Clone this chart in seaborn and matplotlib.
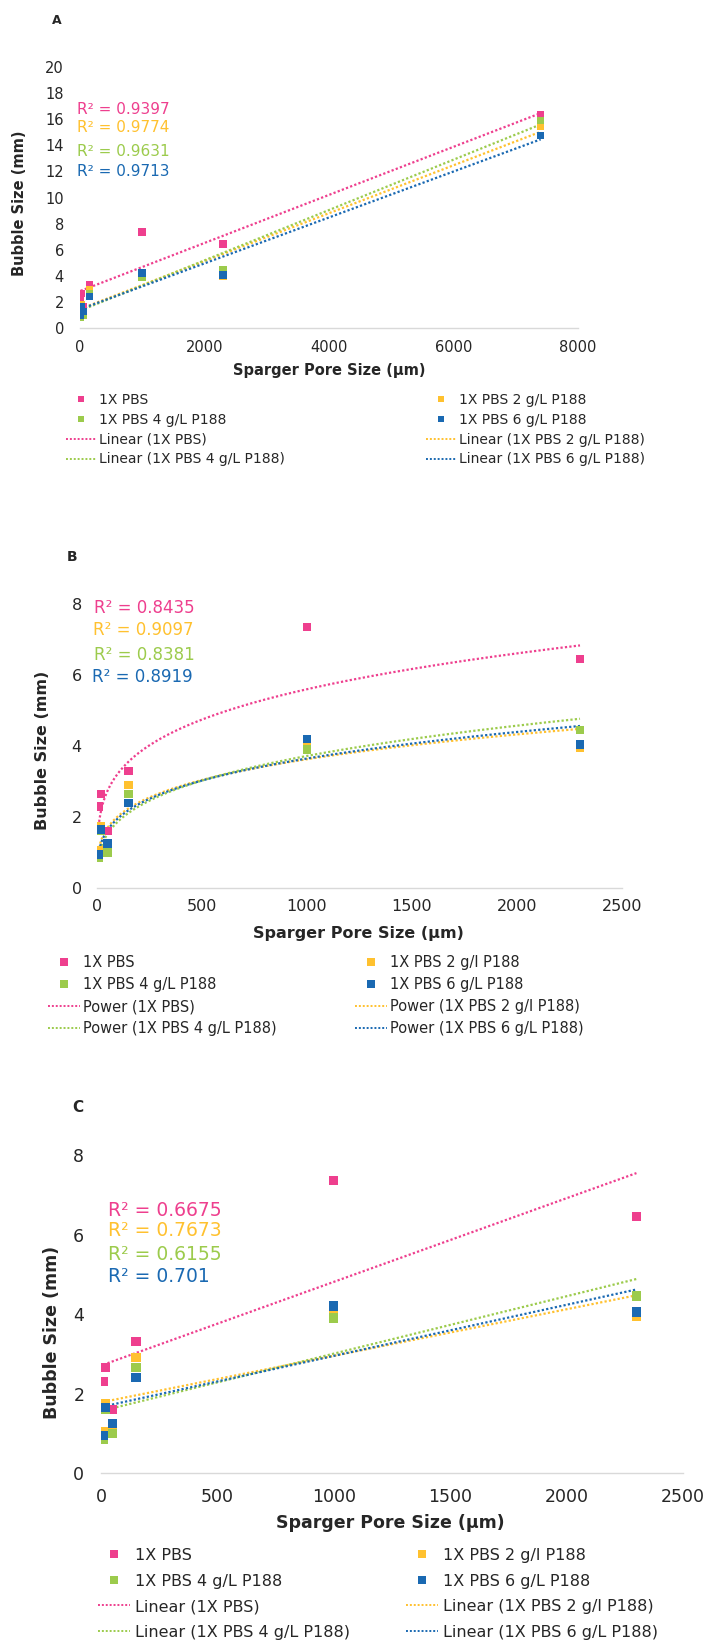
import numpy as np
import pandas as pd
import seaborn as sns
import matplotlib.pyplot as plt
from matplotlib.lines import Line2D

# Values
pore_size = [10, 20, 50, 150, 1000, 2300, 7400]        # sparger pore size (um)
pbs       = [2.3, 2.65, 1.6, 3.3, 7.35, 6.45, 16.3]     # bubble size (mm)
p188_2    = [1.05, 1.75, 1.1, 2.9, 4.05, 3.95, 15.45]
p188_4    = [0.85, 1.6, 1.0, 2.65, 3.9, 4.45, 15.9]
p188_6    = [0.95, 1.65, 1.25, 2.4, 4.2, 4.05, 14.75]

series_A = ['1X PBS', '1X PBS 2 g/L P188', '1X PBS 4 g/L P188', '1X PBS 6 g/L P188']
series_BC = ['1X PBS', '1X PBS 2 g/l P188', '1X PBS 4 g/L P188', '1X PBS 6 g/L P188']

r2_A = ['0.9397', '0.9774', '0.9631', '0.9713']
r2_B = ['0.8435', '0.9097', '0.8381', '0.8919']
r2_C = ['0.6675', '0.7673', '0.6155', '0.701']

colors = ['#EE3F8E', '#FFC12F', '#9CCB4C', '#1A69B2']

sns.set_style('white')
plt.rcParams['font.family'] = ['DejaVu Sans']

W, H = 705, 1644
fig = plt.figure(figsize=(W / 100, H / 100), dpi=100)
DOT = (0, (1, 1))


def fx(x):
    return x / W


def fy(y):
    return 1 - y / H


def make_df(names, n):
    rows = []
    for name, vals in zip(names, [pbs, p188_2, p188_4, p188_6]):
        for x, y in zip(pore_size[:n], vals[:n]):
            rows.append((name, x, y))
    return pd.DataFrame(rows, columns=['series', 'pore', 'bubble'])


def draw_panel(p):
    L, T, R, B = p['box']
    ax = fig.add_axes([fx(L), fy(B), (R - L) / W, (B - T) / H])
    names = p['names']
    df = make_df(names, p['n'])

    sns.scatterplot(data=df, x='pore', y='bubble', hue='series', hue_order=names,
                    palette=colors, marker='s', s=p['ms'], linewidth=0,
                    legend=False, ax=ax, zorder=3)

    # trendlines, fitted the way Excel does it
    for name, c in zip(names, colors):
        sub = df[df.series == name]
        if p['kind'] == 'Linear':
            sns.regplot(data=sub, x='pore', y='bubble', scatter=False, ci=None,
                        color=c, line_kws=dict(linestyle=DOT, linewidth=1.6), ax=ax)
        else:
            b, ln_a = np.polyfit(np.log(sub.pore), np.log(sub.bubble), 1)
            xs = np.linspace(sub.pore.min(), sub.pore.max(), 400)
            sns.lineplot(x=xs, y=np.exp(ln_a) * xs ** b, color=c,
                         linestyle=DOT, linewidth=1.6, ax=ax)

    ax.set_xlim(0, p['xmax'])
    ax.set_ylim(0, p['ymax'])
    ax.set_xticks(range(0, p['xmax'] + 1, p['xstep']))
    ax.set_yticks(range(0, p['ymax'] + 1, 2))
    ax.tick_params(length=0, labelsize=p['tfs'], colors='#262626')
    ax.tick_params(axis='y', pad=p['ypad'])
    ax.tick_params(axis='x', pad=p['xpad'])
    sns.despine(ax=ax, left=True)
    ax.spines['bottom'].set_color('#D9D9D9')
    ax.spines['bottom'].set_linewidth(1)

    ax.set_xlabel('Sparger Pore Size (µm)', fontsize=p['lfs'], fontweight='bold')
    ax.set_ylabel('Bubble Size (mm)', fontsize=p['lfs'], fontweight='bold')
    xl, yl = p['xlab'], p['ylab']
    ax.xaxis.set_label_coords((xl[0] - L) / (R - L), (B - xl[1]) / (B - T))
    ax.yaxis.set_label_coords((yl[0] - L) / (R - L), (B - yl[1]) / (B - T))
    ax.xaxis.label.set_va('center')
    ax.yaxis.label.set_va('center')

    fig.text(fx(p['letter'][0]), fy(p['letter'][1]), p['tag'], fontsize=p['letfs'],
             fontweight='bold', ha='center', va='center')

    for r2, c, x, y in zip(p['r2'], colors, p['r2x'], p['r2y']):
        fig.text(fx(x), fy(y), f'R² = {r2}', color=c, fontsize=p['r2fs'],
                 ha='left', va='center')

    # legend: two columns built as two legends
    marks = [Line2D([], [], marker='s', ls='none', color=c, markersize=p['lm'],
                    markeredgewidth=0) for c in colors]
    lines = [Line2D([], [], ls=DOT, lw=1.4, color=c) for c in colors]
    trend = [f"{p['kind']} ({n})" for n in names]
    for col, idx in zip(p['legx'], [(0, 2), (1, 3)]):
        i, j = idx
        fig.legend([marks[i], marks[j], lines[i], lines[j]],
                   [names[i], names[j], trend[i], trend[j]],
                   loc='upper left', bbox_to_anchor=(fx(col), fy(p['legtop'])),
                   bbox_transform=fig.transFigure, frameon=False, borderpad=0,
                   borderaxespad=0, handlelength=p['hl'], handletextpad=p['htp'],
                   labelspacing=p['ls'], fontsize=p['legfs'])


panels = [
    dict(tag='A', box=(80, 67, 578, 328), n=7, names=series_A, kind='Linear',
         xmax=8000, xstep=2000, ymax=20, tfs=10.5, ypad=11.5, xpad=8.3, ms=30,
         lfs=10.5, xlab=(329, 370), ylab=(20, 203), letter=(57, 21), letfs=9,
         r2=r2_A, r2x=[77] * 4, r2y=[110, 128, 152, 171], r2fs=11,
         legfs=10, legtop=393, ls=0.42, hl=2.16, htp=0.22, legx=[66, 426], lm=5),
    dict(tag='B', box=(97, 604, 622, 888), n=6, names=series_BC, kind='Power',
         xmax=2500, xstep=500, ymax=8, tfs=11.5, ypad=11, xpad=7.7, ms=38,
         lfs=11.5, xlab=(358, 933), ylab=(43, 750), letter=(72, 557), letfs=10,
         r2=r2_B, r2x=[94, 93, 94, 92], r2y=[608, 630, 655, 677], r2fs=12,
         legfs=10.5, legtop=955, ls=0.48, hl=2.19, htp=0.2, legx=[48, 355], lm=5.5),
    dict(tag='C', box=(101, 1155, 683, 1473), n=6, names=series_BC, kind='Linear',
         xmax=2500, xstep=500, ymax=8, tfs=12.5, ypad=12, xpad=10.8, ms=45,
         lfs=12.5, xlab=(390, 1523), ylab=(52, 1332), letter=(78, 1107), letfs=11,
         r2=r2_C, r2x=[108] * 4, r2y=[1211, 1231, 1254, 1276], r2fs=13.5,
         legfs=11.5, legtop=1548, ls=0.66, hl=2.0, htp=0.31, legx=[98, 406], lm=6),
]

for p in panels:
    draw_panel(p)

fig.savefig('out.png', dpi=100)
